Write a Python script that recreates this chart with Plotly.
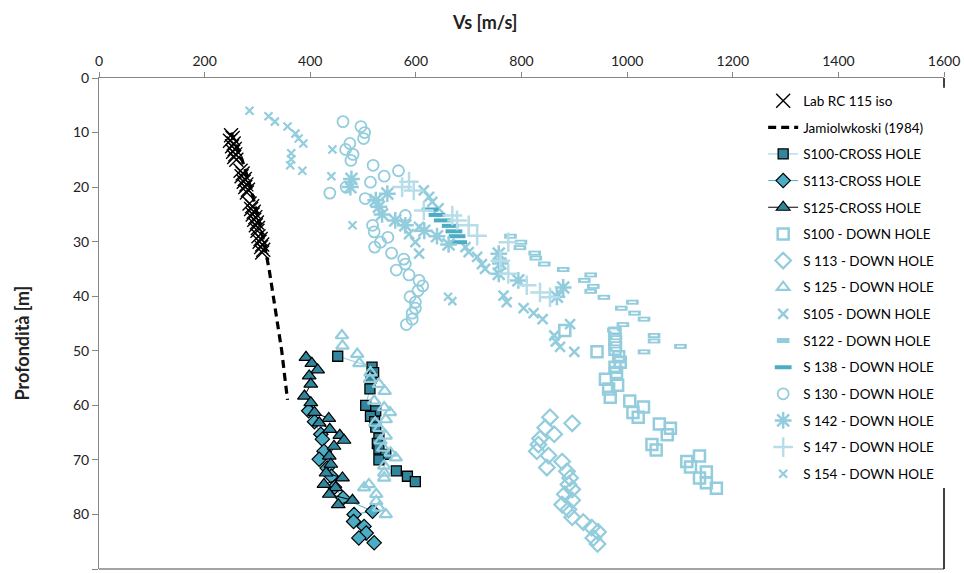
import plotly.graph_objects as go

# ---------------- data ----------------
lab_vs = [250, 253, 248, 255, 252, 257, 254, 258, 256, 260,
          268, 272, 270, 276, 274, 279, 277, 282, 280,
          285, 290, 288, 293, 291, 296, 294, 299, 297, 301, 300,
          302, 306, 304, 309, 307, 311, 309]
lab_d = [10.5, 11, 11.5, 12, 12.5, 13, 13.5, 14, 14.5, 15,
         17, 17.5, 18, 18.5, 19, 19.5, 20, 20.5, 21,
         23, 23.5, 24, 24.5, 25, 25.5, 26, 26.5, 27, 27.5, 28,
         29, 29.5, 30, 30.5, 31, 31.5, 32]

jam_vs = [250, 271, 287, 300, 312, 322, 330, 338, 346, 352, 357]
jam_d = [10, 15, 20, 25, 30, 35, 40, 45, 50, 55, 59]

s100ch_vs = [452, 517, 520, 515, 513, 505, 524, 514, 522, 524, 530, 527, 530, 543, 530, 563, 584, 599]
s100ch_d = [51, 53, 54, 55, 57, 60, 61, 62, 63, 64, 66, 67, 68, 69, 70, 72, 73, 74]

s113ch_vs = [397, 408, 420, 423, 426, 417, 432, 440, 446, 462, 518, 483, 482, 502, 506, 492, 521]
s113ch_d = [61, 63, 65.3, 66.2, 68.4, 69.9, 71.5, 73, 75, 77, 79.4, 80, 81.3, 82.2, 83.4, 84.3, 85.2]

s125ch_vs = [392, 403, 414, 398, 401, 389, 401, 408, 435, 417, 437, 456, 464, 445, 436,
             439, 430, 461, 426, 448, 436, 480, 453]
s125ch_d = [51.2, 52.3, 53.5, 54.6, 56.1, 58.3, 59.5, 61.3, 62.4, 63.2, 64.4, 65.5, 66.4, 67.5, 69.3,
            70.8, 72.4, 73.3, 74.5, 75.1, 76.3, 77.4, 78.2]

s100dh_vs = [882, 943, 977, 977, 977, 977, 984, 987, 977, 980, 959, 982, 965, 968, 1005, 1031,
             1011, 1021, 1061, 1082, 1076, 1047, 1055, 1137, 1113, 1120, 1150, 1137, 1150, 1169]
s100dh_d = [46.3, 50.2, 46.8, 47.9, 48.8, 49.7, 51.1, 52.1, 53, 54, 55.2, 56.3, 57, 58.5, 59.2, 60.3,
            61.3, 62.2, 63.4, 64.2, 65.4, 67.2, 68.2, 69.3, 70.3, 71.3, 72.2, 73.3, 74.2, 75.2]

s113dh_vs = [854, 896, 845, 862, 835, 832, 829, 851, 877, 848, 886, 892, 889, 896, 882, 896,
             877, 889, 896, 917, 933, 945, 936, 944]
s113dh_d = [62.2, 63.3, 64.1, 65.3, 66.1, 67.2, 68.4, 69.2, 70.3, 71.4, 72.1, 73.3, 74.5, 75.4, 76.3, 77.4,
            78.2, 79.1, 80.5, 81.4, 82.4, 83.2, 84.3, 85.4]

s125dh_vs = [460, 461, 489, 493, 514, 513, 530, 541, 521, 540, 551, 543, 523, 531, 543, 533, 538,
             552, 562, 540, 540, 540, 511, 502, 525, 525, 530, 543]
s125dh_d = [47.2, 49.1, 50.6, 52.3, 54, 55.2, 56.1, 57.4, 59.2, 60.4, 61.3, 62.6, 63.2, 64.2, 65.6, 66.5, 67.8,
            68.7, 69.6, 71.1, 72.4, 73.3, 74.5, 75.1, 76.3, 77.6, 78.8, 80]

s105_vs = [615, 625, 631, 643, 606, 587, 599, 606, 694, 700, 716, 725, 731, 766, 772, 804, 823, 840,
           892, 862, 865, 873, 900]
s105_d = [20.6, 21.8, 22.7, 23.9, 27.3, 28.6, 30.1, 32.2, 31, 31.9, 32.8, 34.1, 35, 39.9, 41.1, 42.2, 43.1, 44.2,
          45.1, 47.2, 48.3, 49.3, 50.2]

s122_vs = [779, 799, 797, 825, 827, 843, 879, 931, 919, 936, 931, 956, 1010, 989, 1014, 1032, 992, 974,
           1051, 1051, 1101, 1032, 977, 979, 979, 979, 985, 977]
s122_d = [29, 30.1, 31.1, 32.1, 33, 34.1, 35.1, 36.1, 37.1, 38.2, 39.1, 40.2, 41.1, 42.2, 43.1, 44.2, 45.2, 46.2,
          47.2, 48.2, 49.2, 50.2, 46.5, 47.6, 48.7, 49.7, 51.5, 53.5]

s138_vs = [627, 640, 650, 665, 672, 678, 681]
s138_d = [24.1, 25.1, 26.1, 27.1, 28.1, 29.0, 30.1]

s130_vs = [462, 496, 503, 501, 475, 467, 481, 477, 519, 567, 540, 514, 468, 437, 504, 580, 518, 521,
           547, 533, 522, 554, 577, 580, 563, 587, 606, 613, 604, 589, 599, 599, 593, 593, 582]
s130_d = [8.0, 8.9, 10.0, 11.1, 12.0, 13.1, 14.0, 15.1, 16.0, 17.0, 18.0, 19.1, 20.0, 21.1, 22.1, 25.2, 27, 28.2,
          29.2, 30.1, 31, 32.1, 33.2, 34.1, 35.2, 36.1, 37.1, 38.1, 39, 40.1, 41.1, 42.2, 43.1, 44.2, 45.2]

s142_vs = [478, 476, 546, 524, 530, 536, 561, 580, 616, 640, 662, 757, 760, 757, 794, 879, 867]
s142_d = [18.5, 20, 21.2, 22.4, 23.6, 25, 26.1, 27, 28, 29, 30.5, 32.2, 34, 35.9, 37.1, 38.4, 40.1]

s147_vs = [587, 574, 596, 615, 669, 678, 700, 716, 775, 760, 775, 810, 835, 854]
s147_d = [19, 20, 20.6, 24.3, 25.2, 26.1, 27, 28.9, 30.1, 33.5, 35.9, 38, 39.3, 40.2]

s154_vs = [285, 321, 333, 357, 372, 378, 387, 364, 364, 362, 385, 442, 440, 480, 661, 669]
s154_d = [6, 7, 8, 8.9, 10.2, 11.1, 12, 13.8, 14.9, 16, 17, 13.1, 18, 27, 40.1, 40.9]

x_ticks = [0, 200, 400, 600, 800, 1000, 1200, 1400, 1600]
y_ticks = [0, 10, 20, 30, 40, 50, 60, 70, 80, 90]

# ---------------- styles ----------------
LB = "#93CDDD"
MID = "#4BACC6"
DARK = "#31859C"
PALE = "#B7DEE8"
FONT = "Lato"

fig = go.Figure()


def add(name, x, y, mode, marker=None, line=None, showlegend=True, group=None):
    fig.add_trace(go.Scatter(
        x=x, y=y, mode=mode, name=name, marker=marker, line=line,
        showlegend=showlegend, legendgroup=group or name, hoverinfo="skip"))


add("Lab RC 115 iso", lab_vs, lab_d, "markers",
    marker=dict(symbol="x-thin-open", size=14, color="black", line=dict(width=1.4, color="black")))
add("Jamiolwkoski (1984)", jam_vs, jam_d, "lines",
    line=dict(color="black", width=3.2, dash="8px,5px"))
add("S100-CROSS HOLE", s100ch_vs, s100ch_d, "lines+markers",
    marker=dict(symbol="square", size=10, color=DARK, line=dict(width=1.3, color="black")),
    line=dict(color=LB, width=1))
add("S113-CROSS HOLE", s113ch_vs, s113ch_d, "lines+markers",
    marker=dict(symbol="diamond", size=11, color=MID, line=dict(width=1.2, color="black")),
    line=dict(color=MID, width=1))
add("S125-CROSS HOLE", s125ch_vs, s125ch_d, "lines+markers",
    marker=dict(symbol="triangle-up", size=12, color=DARK, line=dict(width=1.2, color="black")),
    line=dict(color="black", width=1))
add("S100 - DOWN HOLE", s100dh_vs, s100dh_d, "markers",
    marker=dict(symbol="square-open", size=11, color=LB, line=dict(width=2.5, color=LB)))
add("S 113 - DOWN HOLE", s113dh_vs, s113dh_d, "markers",
    marker=dict(symbol="diamond-open", size=12, color=LB, line=dict(width=2.2, color=LB)))
add("S 125 - DOWN HOLE", s125dh_vs, s125dh_d, "markers",
    marker=dict(symbol="triangle-up-open", size=11, color=LB, line=dict(width=2.2, color=LB)))
add("S105 - DOWN HOLE", s105_vs, s105_d, "markers",
    marker=dict(symbol="x-thin-open", size=10, color=LB, line=dict(width=2.5, color=LB)))
add("S122 - DOWN HOLE", s122_vs, s122_d, "markers",
    marker=dict(symbol="line-ew-open", size=9, color=LB, line=dict(width=5, color=LB)))
add("S122 - DOWN HOLE", s122_vs, s122_d, "markers",
    marker=dict(symbol="line-ew-open", size=5, color="white", line=dict(width=1.4, color="white")),
    showlegend=False, group="S122 - DOWN HOLE")
add("S 138 - DOWN HOLE", s138_vs, s138_d, "markers",
    marker=dict(symbol="line-ew-open", size=12, color=MID, line=dict(width=4, color=MID)))
add("S 130 - DOWN HOLE", s130_vs, s130_d, "markers",
    marker=dict(symbol="circle-open", size=11, color=LB, line=dict(width=1.8, color=LB)))
add("S 142 - DOWN HOLE", s142_vs, s142_d, "markers",
    marker=dict(symbol="asterisk-open", size=14, color=LB, line=dict(width=2.5, color=LB)))
add("S 147 - DOWN HOLE", s147_vs, s147_d, "markers",
    marker=dict(symbol="cross-thin-open", size=14, color=PALE, line=dict(width=2.5, color=PALE)))
add("S 154 - DOWN HOLE", s154_vs, s154_d, "markers",
    marker=dict(symbol="x-thin-open", size=8, color=LB, line=dict(width=2.2, color=LB)))

AXC = "#868686"
fig.update_xaxes(range=[0, 1600], side="top", tickvals=x_ticks, ticks="outside", ticklen=5,
                 tickcolor=AXC, showline=True, linecolor=AXC, linewidth=1, showgrid=False,
                 zeroline=False, tickfont=dict(family=FONT, size=14, color="#222"))
fig.update_yaxes(range=[90, 0], tickvals=y_ticks, ticks="outside", ticklen=6,
                 tickcolor=AXC, showline=True, linecolor=AXC, linewidth=1, showgrid=False,
                 zeroline=False, tickfont=dict(family=FONT, size=14, color="#222"))

# frame: bottom (grey) and right (black, hidden behind the legend in the original)
fig.add_shape(type="line", xref="paper", yref="paper", x0=0, x1=1, y0=0, y1=0,
              line=dict(color=AXC, width=1.5))
fig.add_shape(type="line", xref="paper", yref="paper", x0=1, x1=1, y0=0, y1=0.165,
              line=dict(color="black", width=1.5))
fig.add_shape(type="line", xref="paper", yref="paper", x0=1, x1=1, y0=0.98, y1=1,
              line=dict(color="black", width=1.5))

fig.add_annotation(text="<b>Vs [m/s]</b>", xref="paper", yref="paper", x=0.4564, y=1.114,
                   xanchor="center", yanchor="middle",
                   showarrow=False, font=dict(family=FONT, size=18, color="#222"))
fig.add_annotation(text="<b>Profondità [m]</b>", xref="paper", yref="paper", x=-0.0908, y=0.46,
                   xanchor="center", yanchor="middle",
                   textangle=-90, showarrow=False, font=dict(family=FONT, size=18, color="#222"))

fig.update_layout(
    width=964, height=573,
    margin=dict(l=99, r=17, t=78, b=4),
    paper_bgcolor="white", plot_bgcolor="white",
    showlegend=True,
    legend=dict(x=0.786, y=0.985, xanchor="left", yanchor="top", bgcolor="rgba(255,255,255,0)",
                borderwidth=0, font=dict(family=FONT, size=13.5, color="black"),
                tracegroupgap=6.1, itemsizing="trace", traceorder="grouped"),
)

fig.write_html("out.html")
